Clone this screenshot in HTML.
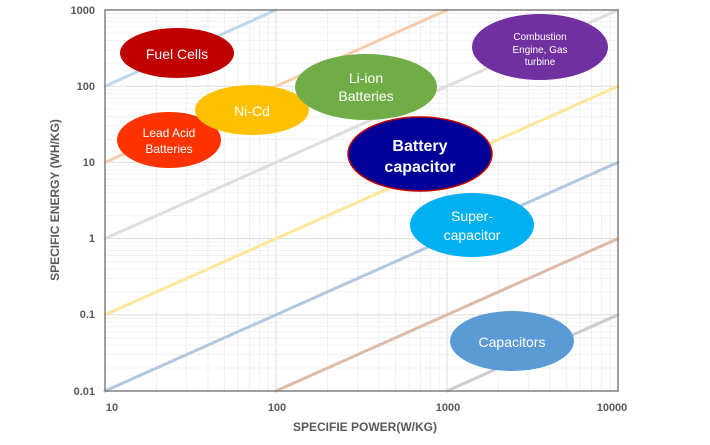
<!DOCTYPE html>
<html><head><meta charset="utf-8"><style>
html,body{margin:0;padding:0;background:#fff;}
svg text{font-family:"Liberation Sans",sans-serif;}
</style></head><body>
<svg id="s" width="710" height="440" viewBox="0 0 710 440" xmlns="http://www.w3.org/2000/svg">
<g id="grid"></g>
<g fill="none" stroke-width="3" stroke-linecap="round">
<line x1="105" y1="86.2" x2="276" y2="10" stroke="#bdd7ee"/>
<line x1="105" y1="162.4" x2="447" y2="10" stroke="#f8cbad"/>
<line x1="105" y1="238.6" x2="618" y2="10" stroke="#dedede"/>
<line x1="105" y1="314.8" x2="618" y2="86.2" stroke="#ffe699"/>
<line x1="105" y1="391" x2="618" y2="162.4" stroke="#b4c7e0"/>
<line x1="276" y1="391" x2="618" y2="238.6" stroke="#dfbba7"/>
<line x1="447" y1="391" x2="618" y2="314.8" stroke="#cccccc"/>
</g>
<rect x="105" y="10" width="513" height="381" fill="none" stroke="#808080" stroke-width="1.5"/>
<g font-size="11" font-weight="bold" fill="#595959" text-anchor="end">
<text x="95" y="14">1000</text><text x="95" y="90">100</text><text x="95" y="166">10</text>
<text x="95" y="242">1</text><text x="95" y="318">0.1</text><text x="95" y="395">0.01</text>
</g>
<g font-size="11" font-weight="bold" fill="#595959" text-anchor="middle">
<text x="112" y="411">10</text><text x="277" y="411">100</text><text x="448" y="411">1000</text><text x="612" y="411">10000</text>
</g>
<text x="365" y="431" font-size="12" font-weight="bold" fill="#595959" text-anchor="middle">SPECIFIE POWER(W/KG)</text>
<text transform="translate(59,200) rotate(-90)" font-size="12" font-weight="bold" fill="#595959" text-anchor="middle">SPECIFIC ENERGY (WH/KG)</text>

<g text-anchor="middle" fill="#fff">
<ellipse cx="177" cy="53" rx="57" ry="25" fill="#c00000"/>
<text x="177" y="59" font-size="14">Fuel Cells</text>
<ellipse cx="169" cy="140" rx="52" ry="28" fill="#ff3300"/>
<text x="169" y="137" font-size="12">Lead Acid</text><text x="169" y="153" font-size="12">Batteries</text>
<ellipse cx="252" cy="110" rx="57" ry="25" fill="#ffc000"/>
<text x="252" y="116" font-size="14">Ni-Cd</text>
<ellipse cx="366" cy="87" rx="71" ry="33" fill="#70ad47"/>
<text x="366" y="83" font-size="14">Li-ion</text><text x="366" y="101" font-size="14">Batteries</text>
<ellipse cx="540" cy="47" rx="68" ry="33" fill="#7030a0"/>
<text x="540" y="40" font-size="10">Combustion</text><text x="540" y="53" font-size="10">Engine, Gas</text><text x="540" y="65" font-size="10">turbine</text>
<ellipse cx="420" cy="154" rx="72" ry="37" fill="#000099" stroke="#c00000" stroke-width="1.5"/>
<text x="420" y="151" font-size="16" font-weight="bold">Battery</text><text x="420" y="172" font-size="16" font-weight="bold">capacitor</text>
<ellipse cx="472" cy="225" rx="62" ry="32" fill="#00b0f0"/>
<text x="472" y="221" font-size="14">Super-</text><text x="472" y="240" font-size="14">capacitor</text>
<ellipse cx="512" cy="341" rx="62" ry="30" fill="#5b9bd5"/>
<text x="512" y="347" font-size="14">Capacitors</text>
</g>
</svg>
<script>
(function(){
var g=document.getElementById('grid'),h='';
var X0=105,DX=171,Y0=391,DY=76.2;
for(var d=0;d<3;d++)for(var k=1;k<10;k++){var x=X0+d*DX+Math.log10(k)*DX;
h+='<line x1="'+x+'" y1="10" x2="'+x+'" y2="391" stroke="'+(k==1?'#dddddd':'#f0f0f0')+'" stroke-width="1"/>';}
for(var d=0;d<5;d++)for(var k=1;k<10;k++){var y=Y0-d*DY-Math.log10(k)*DY;
h+='<line x1="105" y1="'+y+'" x2="618" y2="'+y+'" stroke="'+(k==1?'#dddddd':'#f0f0f0')+'" stroke-width="1"/>';}
g.innerHTML=h;
})();
</script>
</body></html>
